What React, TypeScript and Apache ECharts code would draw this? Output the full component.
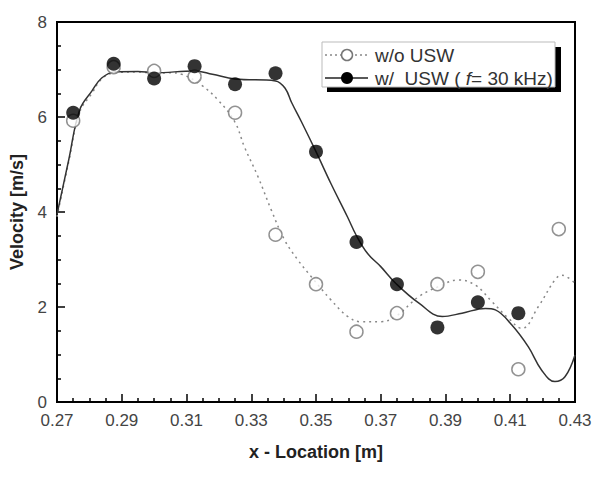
import React, { useEffect, useRef } from "react";
import * as echarts from "echarts";

// Measured points
const woX = [0.275, 0.2875, 0.3, 0.3125, 0.325, 0.3375, 0.35, 0.3625, 0.375, 0.3875, 0.4, 0.4125, 0.425];
const woY = [5.92, 7.05, 6.97, 6.85, 6.09, 3.52, 2.48, 1.48, 1.87, 2.48, 2.74, 0.69, 3.64];
const wX = [0.275, 0.2875, 0.3, 0.3125, 0.325, 0.3375, 0.35, 0.3625, 0.375, 0.3875, 0.4, 0.4125];
const wY = [6.09, 7.12, 6.81, 7.07, 6.69, 6.92, 5.27, 3.37, 2.48, 1.57, 2.1, 1.87];

// Fitted curves
const woCurveX = [0.27, 0.2736, 0.277, 0.2808, 0.2838, 0.2878, 0.295, 0.3, 0.305, 0.3085, 0.3146, 0.3197, 0.3249, 0.3279, 0.3321, 0.3362, 0.3403, 0.3444, 0.3485, 0.3546, 0.3598, 0.3638, 0.37, 0.3746, 0.3818, 0.3879, 0.394, 0.3992, 0.4044, 0.4095, 0.4136, 0.4187, 0.4238, 0.4259, 0.43];
const woCurveY = [3.9, 5.05, 6.1, 6.5, 6.8, 6.93, 6.95, 6.92, 6.93, 6.9, 6.67, 6.36, 5.9, 5.37, 4.74, 4.04, 3.41, 2.99, 2.64, 2.15, 1.8, 1.69, 1.69, 1.8, 2.22, 2.43, 2.57, 2.46, 2.11, 1.76, 1.55, 2.01, 2.57, 2.67, 2.5];
const wCurveX = [0.27, 0.2736, 0.277, 0.2808, 0.2838, 0.2878, 0.295, 0.3, 0.3125, 0.318, 0.325, 0.3375, 0.3405, 0.3425, 0.3455, 0.35, 0.3546, 0.3597, 0.3625, 0.366, 0.37, 0.3746, 0.3818, 0.389, 0.3951, 0.4023, 0.4054, 0.4105, 0.4156, 0.4197, 0.4238, 0.4269, 0.43];
const wCurveY = [3.95, 5.09, 6.15, 6.55, 6.82, 6.95, 6.96, 6.93, 6.97, 6.9, 6.8, 6.76, 6.6, 6.3, 5.9, 5.27, 4.6, 3.9, 3.5, 3.12, 2.85, 2.5, 2.08, 1.8, 1.87, 1.97, 1.94, 1.62, 1.16, 0.67, 0.43, 0.53, 0.99];

const legendLabels = ["w/o USW", "w/  USW ("];

const FONT = "'Liberation Sans', Arial, sans-serif";

const zip = (xs: number[], ys: number[]) => xs.map((x, i) => [x, ys[i]]);

export default function App() {
  const ref = useRef<HTMLDivElement>(null);
  useEffect(() => {
    if (!ref.current) return;
    const chart = echarts.init(ref.current, undefined, { renderer: "svg" });
    chart.setOption({
      animation: false,
      backgroundColor: "#fff",
      grid: { left: 55, right: 20, top: 22, bottom: 75, show: true, borderColor: "#000", borderWidth: 2 },
      xAxis: {
        type: "value",
        min: 0.27,
        max: 0.43,
        interval: 0.02,
        name: "x - Location [m]",
        nameLocation: "middle",
        nameGap: 41,
        nameTextStyle: { fontFamily: FONT, fontSize: 18, fontWeight: "bold", color: "#222" },
        axisLine: { lineStyle: { color: "#000", width: 2 } },
        axisTick: { inside: true, length: 8, lineStyle: { color: "#000", width: 1.5 } },
        minorTick: { show: true, splitNumber: 4, length: 4, lineStyle: { color: "#000", width: 1.5 } },
        splitLine: { show: false },
        axisLabel: { fontFamily: FONT, fontSize: 17, color: "#444", margin: 10, formatter: (v: number) => v.toFixed(2) },
      },
      yAxis: {
        type: "value",
        min: 0,
        max: 8,
        interval: 2,
        name: "Velocity [m/s]",
        nameLocation: "middle",
        nameGap: 31,
        nameTextStyle: { fontFamily: FONT, fontSize: 18, fontWeight: "bold", color: "#222" },
        axisLine: { show: true, lineStyle: { color: "#000", width: 2 } },
        axisTick: { show: true, inside: true, length: 8, lineStyle: { color: "#000", width: 1.5 } },
        minorTick: { show: true, splitNumber: 4, length: 4, lineStyle: { color: "#000", width: 1.5 } },
        splitLine: { show: false },
        axisLabel: { fontFamily: FONT, fontSize: 17, color: "#444", margin: 10 },
      },
      series: [
        {
          type: "line",
          data: zip(woCurveX, woCurveY),
          smooth: 0.4,
          symbol: "none",
          lineStyle: { color: "#888", width: 1.5, type: [2, 4] },
          z: 2,
        },
        {
          type: "line",
          data: zip(wCurveX, wCurveY),
          smooth: 0.4,
          symbol: "none",
          lineStyle: { color: "#333", width: 1.5 },
          z: 3,
        },
        {
          type: "scatter",
          data: zip(woX, woY),
          symbol: "circle",
          symbolSize: 13,
          itemStyle: { color: "#fff", borderColor: "#777", borderWidth: 1.5 },
          z: 4,
        },
        {
          type: "scatter",
          data: zip(wX, wY),
          symbol: "circle",
          symbolSize: 14,
          itemStyle: { color: "#000" },
          z: 5,
        },
      ],
      graphic: [
        { type: "rect", shape: { x: 327, y: 47, width: 234, height: 45 }, style: { fill: "#000" }, z: 10 },
        { type: "rect", shape: { x: 322, y: 42, width: 233, height: 45 }, style: { fill: "#fff", stroke: "#bbb", lineWidth: 1 }, z: 11 },
        { type: "line", shape: { x1: 325, y1: 55, x2: 368, y2: 55 }, style: { stroke: "#888", lineWidth: 1.5, lineDash: [2, 3] }, z: 12 },
        { type: "circle", shape: { cx: 347, cy: 55, r: 5.5 }, style: { fill: "#fff", stroke: "#777", lineWidth: 1.5 }, z: 13 },
        { type: "line", shape: { x1: 325, y1: 78, x2: 368, y2: 78 }, style: { stroke: "#222", lineWidth: 1.5 }, z: 12 },
        { type: "circle", shape: { cx: 347, cy: 78, r: 6 }, style: { fill: "#000" }, z: 13 },
        {
          type: "text", x: 375, y: 55, z: 13,
          style: { text: legendLabels[0], fontFamily: FONT, fontSize: 19, fill: "#333", verticalAlign: "middle" },
        },
        {
          type: "text", x: 375, y: 78, z: 13,
          style: {
            text: "{n|" + legendLabels[1] + " }{i|f}{n|= 30 kHz)}",
            fontFamily: FONT, fontSize: 19, fill: "#333", verticalAlign: "middle",
            rich: {
              n: { fontFamily: FONT, fontSize: 19, fill: "#333", color: "#333" },
              i: { fontFamily: FONT, fontSize: 19, fontStyle: "italic", fill: "#333", color: "#333" },
            },
          },
        },
      ],
    });
    return () => chart.dispose();
  }, []);
  return (
    <div
      ref={ref}
      style={{ position: "fixed", left: 0, top: 0, width: 595, height: 477, background: "#fff" }}
    />
  );
}
